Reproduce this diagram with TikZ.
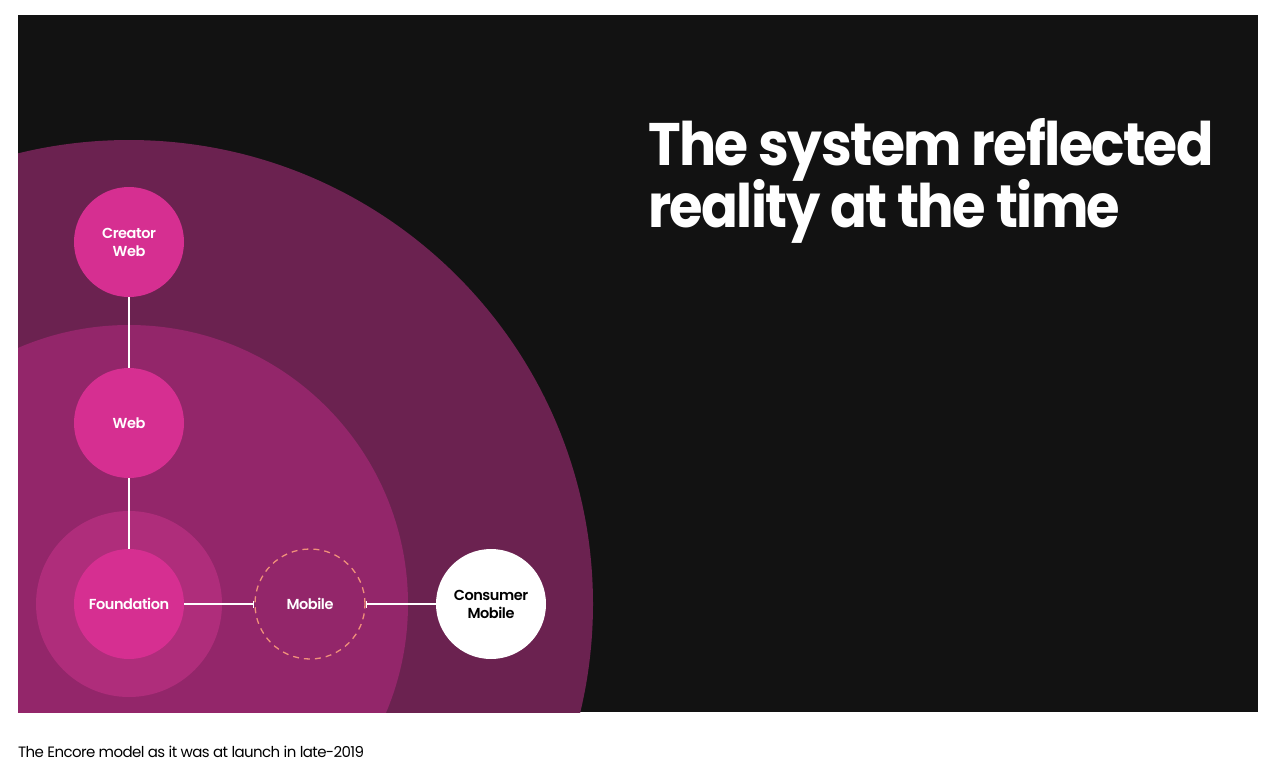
\documentclass[tikz,border=0pt]{standalone}
\usepackage{fontspec}
\setmainfont{Poppins}[LetterSpace=-4]
\newfontfamily\titlefont{Poppins Bold}[LetterSpace=-3]
\newfontfamily\labelfont{Poppins SemiBold}[LetterSpace=-3]
\usetikzlibrary{arrows.meta}
\definecolor{panel}{HTML}{121212}
\definecolor{outerring}{HTML}{6B2250}
\definecolor{midring}{HTML}{93266A}
\definecolor{halo}{HTML}{AF2D7B}
\definecolor{nodepink}{HTML}{D62F91}
\definecolor{dashsalmon}{HTML}{F0907A}
\tikzset{
  labelfonts/.style={font=\labelfont\fontsize{14.5}{18}\selectfont},
  pinknode/.style={circle, fill=nodepink, minimum size=110pt, inner sep=0pt, text=white, align=center, labelfonts},
  mobilenode/.style={circle, draw=dashsalmon, dash pattern=on 6pt off 5pt, line width=1.3pt, minimum size=110pt, inner sep=0pt, text=white, align=center, labelfonts},
  whitenode/.style={circle, fill=white, minimum size=110pt, inner sep=0pt, text=black, align=center, labelfonts},
  link/.style={draw=white, line width=1.6pt},
  titletext/.style={anchor=base west, text=white, inner sep=0pt, font=\titlefont\fontsize{60}{62}\selectfont},
}
\begin{document}
\begin{tikzpicture}[x=1pt,y=-1pt]
\useasboundingbox (0,0) rectangle (1280,772);
\fill[white] (0,0) rectangle (1280,772);
\fill[panel] (18,15) rectangle (1258,712);
\begin{scope}
  \clip (18,15) rectangle (1258,712);
  \fill[outerring] (129,604) circle[radius=464];
  \fill[midring] (129,604) circle[radius=279];
  \fill[halo] (129,604) circle[radius=93];
\end{scope}
\node[pinknode] (creator) at (129,242) {Creator\\Web};
\node[pinknode] (web) at (129,423) {Web};
\node[pinknode] (foundation) at (129,604) {Foundation};
\node[mobilenode] (mobile) at (310,604) {Mobile};
\node[whitenode] (consumer) at (491,604) {Consumer\\Mobile};
\draw[link] (creator) -- (web);
\draw[link] (web) -- (foundation);
\draw[link, -{Bar[width=7pt,line width=1.3pt]}] (foundation) -- (mobile);
\draw[link, {Bar[width=7pt,line width=1.3pt]}-] (mobile) -- (consumer);
\node[titletext] (title1) at (648,165) {\scalebox{0.92}[1]{The system reflected}};
\node[titletext] (title2) at (648,227) {\scalebox{0.905}[1]{reality at the time}};
\node[anchor=base west, inner sep=0pt, text=black, font=\fontsize{15}{18}\selectfont] (caption) at (18,757) {The Encore model as it was at launch in late-2019};
\end{tikzpicture}
\end{document}
